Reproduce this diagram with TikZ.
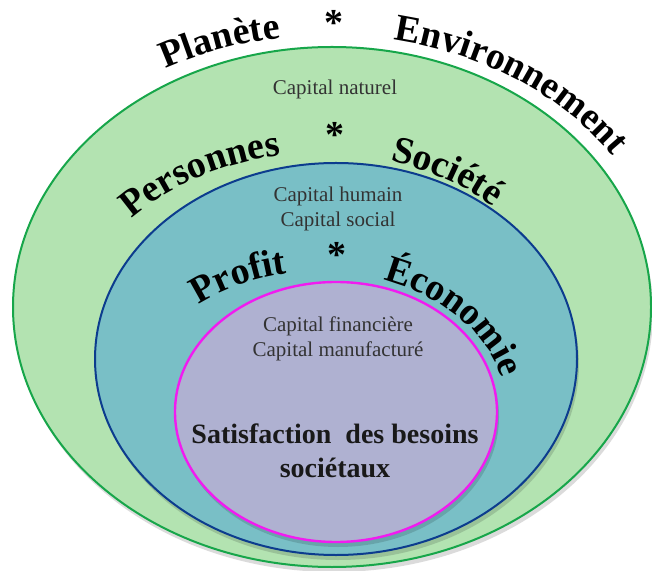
\documentclass[tikz,border=0pt]{standalone}
\usepackage{fontspec}
\setmainfont{Liberation Serif}
\usetikzlibrary{decorations.text,shadows}
\definecolor{ofill}{HTML}{B3E3B1}
\definecolor{oline}{HTML}{17A64A}
\definecolor{bfill}{HTML}{79BFC6}
\definecolor{bline}{HTML}{0C3C8E}
\definecolor{mfill}{HTML}{AFB1D1}
\definecolor{mline}{HTML}{F11BF0}
\definecolor{txt}{HTML}{333333}
\newcommand\arcfont{\bfseries\fontsize{38}{38}\selectfont}
\begin{document}
\begin{tikzpicture}[x=1pt,y=1pt,
  ring/.style={line width=2pt},
  shade1/.style={fill=black, opacity=0.14},
  archtext/.style={decorate, decoration={text along path, text align=center, text={#1}}},
  starnode/.style={font=\arcfont, inner sep=0pt},
  captext/.style={font=\fontsize{21}{25}\selectfont, text=txt, align=center, inner sep=0pt},
  maintext/.style={font=\bfseries\fontsize{28}{34}\selectfont, text=black!90, align=center, inner sep=0pt}]
\useasboundingbox (0,0) rectangle (652,570);
% rings with soft shadows
\fill[shade1] (334,258) ellipse [x radius=319, y radius=260];
\filldraw[ring, draw=oline, fill=ofill] (332,263) ellipse [x radius=319, y radius=260];
\fill[shade1] (338,206) ellipse [x radius=241, y radius=196];
\filldraw[ring, draw=bline, fill=bfill] (336,211) ellipse [x radius=241, y radius=196];
\fill[shade1] (338,153) ellipse [x radius=161, y radius=130];
\filldraw[line width=2.4pt, draw=mline, fill=mfill] (336,158) ellipse [x radius=161, y radius=130];
% arched titles
\path[archtext={|\arcfont|Planète}, shift={(330,263)}] (119.4:340 and 272) arc[start angle=119.4, end angle=97.9, x radius=340, y radius=272];
\path[archtext={|\arcfont|Environnement}, shift={(330,263)}] (79:340 and 272) arc[start angle=79, end angle=34, x radius=340, y radius=272];
\path[archtext={|\arcfont|Personnes}, shift={(320,211)}] (138.2:257.5 and 206) arc[start angle=138.2, end angle=97.8, x radius=257.5, y radius=206];
\path[archtext={|\arcfont|Société}, shift={(320,211)}] (73.1:257.5 and 206) arc[start angle=73.1, end angle=48.7, x radius=257.5, y radius=206];
\path[archtext={|\arcfont|Profit}, shift={(320,158)}] (130.7:187 and 141) arc[start angle=130.7, end angle=99.8, x radius=187, y radius=141];
\path[archtext={|\arcfont|Économie}, shift={(320,158)}] (68.7:187 and 141) arc[start angle=68.7, end angle=15.7, x radius=187, y radius=141];
\node[starnode] (s1) at (334,547) {*};
\node[starnode] (s2) at (335,435) {*};
\node[starnode] (s3) at (337,315) {*};
% inner texts
\node[captext] (c1) at (335,481) {Capital naturel};
\node[captext] (c2) at (338,361) {Capital humain\\Capital social};
\node[captext] (c3) at (338,231) {Capital financière\\Capital manufacturé};
\node[maintext] (m) at (335,119) {Satisfaction\ \ des besoins\\sociétaux};
\end{tikzpicture}
\end{document}
